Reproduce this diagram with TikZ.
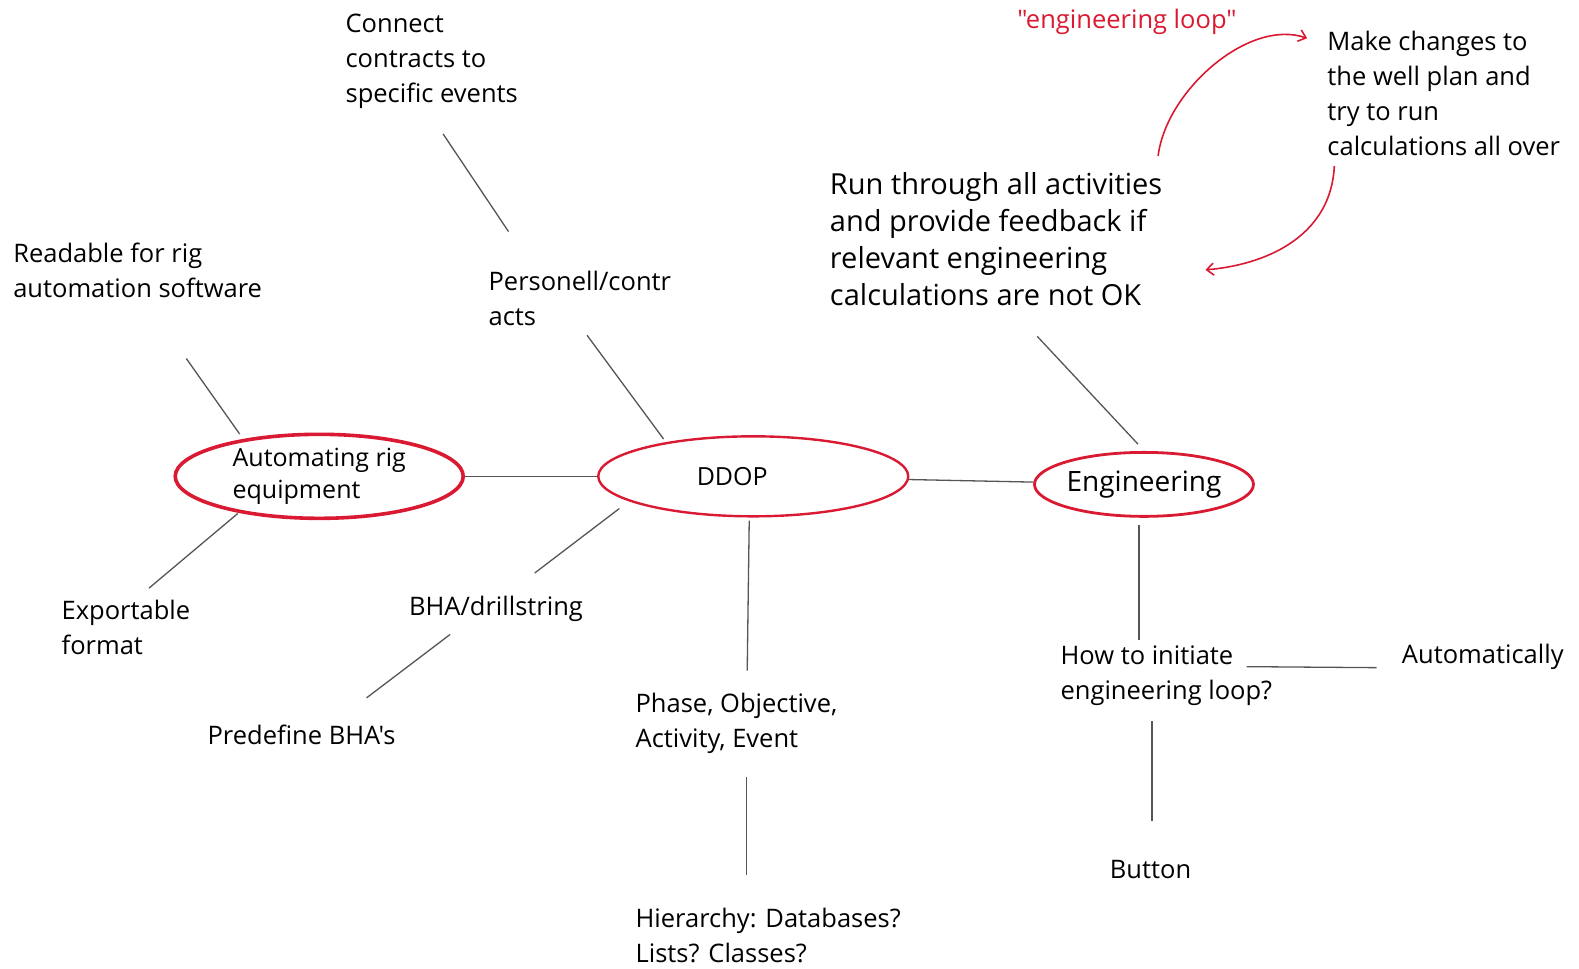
\documentclass[tikz,border=0pt]{standalone}
\usepackage{fontspec}
\setmainfont{Open Sans}
\newfontfamily\straightquotes{Open Sans}[Ligatures=TeXOff]
\usetikzlibrary{shapes.geometric,arrows.meta}
\definecolor{mapred}{RGB}{218,26,50}
\definecolor{stem}{RGB}{85,85,85}
\tikzset{
  topic/.style={draw=mapred, ellipse, inner sep=0pt, align=left},
  note/.style={anchor=west, align=left, inner sep=0pt, font=\fontsize{25.5}{35}\selectfont},
  stemline/.style={draw=stem, line width=1.3pt},
  loopline/.style={draw=mapred, line width=1.6pt, -{Straight Barb[length=7pt,width=12pt]}}
}
\begin{document}
\begin{tikzpicture}[x=1.007pt, y=-1.007pt]
\useasboundingbox (0,0) rectangle (1568,962);

% central topics
\node[topic, line width=3.6pt, minimum width=288, minimum height=84,
      font=\fontsize{25}{32}\selectfont] (auto) at (317,473) {Automating rig\\equipment};
\node[topic, line width=2.4pt, minimum width=310, minimum height=80,
      font=\fontsize{25}{32}\selectfont] (ddop) at (748,473) {\hspace*{-42pt}DDOP};
\node[topic, line width=2.8pt, minimum width=212, minimum height=64,
      font=\fontsize{28}{36}\selectfont] (eng) at (1136,481) {Engineering};

% leaf notes
\node[note] (connect) at (343,61) {Connect\\contracts to\\specific events};
\node[note] (readable) at (13,268) {Readable for rig\\automation software};
\node[note] (personell) at (485,296) {Personell/contr\\acts};
\node[note, font=\fontsize{29}{37}\selectfont] (run) at (824,237)
  {Run through all activities\\and provide feedback if\\relevant engineering\\calculations are not OK};
\node[note, text=mapred, font=\straightquotes\fontsize{25.5}{35}\selectfont] (looplabel) at (1010,22) {"engineering loop"};
\node[note] (make) at (1318,93) {Make changes to\\the well plan and\\try to run\\calculations all over};
\node[note] (export) at (61,623) {Exportable\\format};
\node[note] (bha) at (406,605) {BHA/drillstring};
\node[note, font=\straightquotes\fontsize{25.5}{35}\selectfont] (predef) at (206,730) {Predefine BHA's};
\node[note] (phase) at (631,718) {Phase, Objective,\\Activity, Event};
\node[note] (hier) at (631,929) {Hierarchy: Databases?\\Lists? Classes?};
\node[note] (how) at (1053,671) {How to initiate\\engineering loop?};
\node[note] (autom) at (1392,652) {Automatically};
\node[note] (button) at (1102,863) {Button};

% free ends of the stems
\coordinate (c1) at (440,133);  \coordinate (c2) at (505,230);
\coordinate (r1) at (185,356);  \coordinate (r2) at (238,431);
\coordinate (p1) at (583,333);  \coordinate (p2) at (659,436);
\coordinate (e1) at (236,510);  \coordinate (e2) at (148,584);
\coordinate (b1) at (615,505);  \coordinate (b2) at (531,569);
\coordinate (d1) at (447,630);  \coordinate (d2) at (364,693);
\coordinate (f1) at (744,517);  \coordinate (f2) at (742,666);
\coordinate (h1) at (741,772);  \coordinate (h2) at (741,869);
\coordinate (u1) at (1030,334); \coordinate (u2) at (1130,441);
\coordinate (g1) at (1131,521); \coordinate (g2) at (1131,636);
\coordinate (a1) at (1238,662); \coordinate (a2) at (1367,663);
\coordinate (k1) at (1144,716); \coordinate (k2) at (1144,815);

% stems
\draw[stemline] (auto) -- (ddop);
\draw[stemline] (ddop) -- (eng);
\draw[stemline] (c1) -- (c2);
\draw[stemline] (r1) -- (r2);
\draw[stemline] (p1) -- (p2);
\draw[stemline] (e1) -- (e2);
\draw[stemline] (b1) -- (b2);
\draw[stemline] (d1) -- (d2);
\draw[stemline] (f1) -- (f2);
\draw[stemline] (h1) -- (h2);
\draw[stemline] (u1) -- (u2);
\draw[stemline] (g1) -- (g2);
\draw[stemline] (a1) -- (a2);
\draw[stemline] (k1) -- (k2);

% engineering loop arrows
\coordinate (l1) at (1150,155); \coordinate (l2) at (1298,38);
\coordinate (l3) at (1325,165); \coordinate (l4) at (1197,268);
\draw[loopline] (l1) .. controls (1158,90) and (1240,18) .. (l2);
\draw[loopline] (l3) .. controls (1322,230) and (1265,262) .. (l4);
\end{tikzpicture}
\end{document}
